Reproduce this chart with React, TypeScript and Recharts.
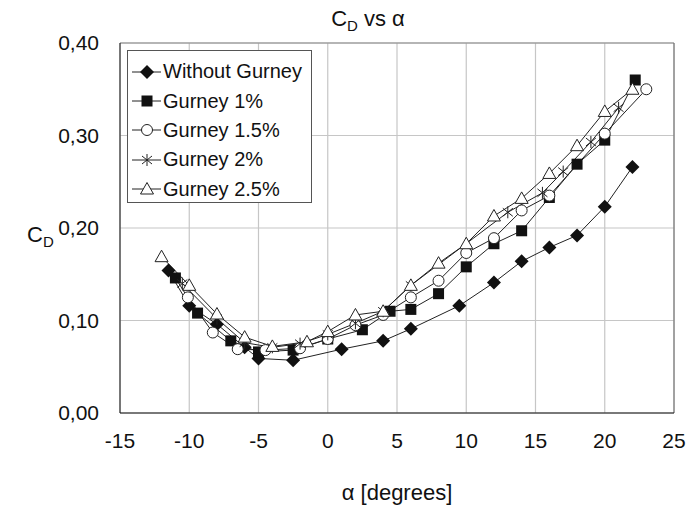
import React from "react";
import {
  LineChart,
  Line,
  XAxis,
  YAxis,
  CartesianGrid,
  ReferenceLine,
} from "recharts";

// angle of attack (deg) and drag coefficient per configuration
const withoutX = [-11.5, -10, -8, -6, -5, -2.5, 1, 4, 6, 9.5, 12, 14, 16, 18, 20, 22];
const withoutY = [0.154, 0.116, 0.096, 0.071, 0.059, 0.057, 0.069, 0.078, 0.091, 0.116, 0.141, 0.164, 0.179, 0.192, 0.223, 0.266];

const g1X = [-11, -9.4, -7, -5, -2.5, 0, 2.5, 4.5, 6, 8, 10, 12, 14, 16, 18, 20, 22.2];
const g1Y = [0.146, 0.108, 0.078, 0.066, 0.068, 0.08, 0.09, 0.11, 0.112, 0.129, 0.158, 0.183, 0.197, 0.233, 0.269, 0.295, 0.36];

const g15X = [-10.1, -8.3, -6.5, -4.5, -2, 0, 2, 4, 6, 8, 10, 12, 14, 16, 20, 23];
const g15Y = [0.125, 0.087, 0.069, 0.068, 0.07, 0.08, 0.095, 0.106, 0.125, 0.143, 0.173, 0.189, 0.219, 0.235, 0.302, 0.35];

const g2X = [-10.5, -8, -6, -4, -2, 0, 2, 4, 6, 13, 15.5, 17, 19, 21];
const g2Y = [0.14, 0.102, 0.076, 0.071, 0.075, 0.085, 0.097, 0.11, 0.138, 0.217, 0.238, 0.261, 0.293, 0.33];

const g25X = [-12, -10, -8, -6, -4, -1.5, 0, 2, 4, 6, 8, 10, 12, 14, 16, 18, 20, 22];
const g25Y = [0.169, 0.138, 0.107, 0.082, 0.072, 0.077, 0.088, 0.106, 0.11, 0.138, 0.162, 0.183, 0.213, 0.232, 0.259, 0.289, 0.326, 0.35];

const xTicks = [-15, -10, -5, 0, 5, 10, 15, 20, 25];
const yTicks = [0, 0.1, 0.2, 0.3, 0.4];

const toRows = (xs: number[], ys: number[]) => xs.map((x, i) => ({ x, y: ys[i] }));

const FONT = "'Liberation Sans', Arial, sans-serif";

type Shape = "diamond" | "square" | "circle" | "star" | "triangle";

const Marker = ({ shape, cx, cy }: { shape: Shape; cx: number; cy: number }) => {
  switch (shape) {
    case "diamond":
      return <polygon points={`${cx},${cy - 7} ${cx + 7},${cy} ${cx},${cy + 7} ${cx - 7},${cy}`} fill="#111" />;
    case "square":
      return <rect x={cx - 5.5} y={cy - 5.5} width={11} height={11} fill="#111" />;
    case "circle":
      return <circle cx={cx} cy={cy} r={5.5} fill="#fff" stroke="#222" strokeWidth={1} />;
    case "star":
      return (
        <g stroke="#222" strokeWidth={1}>
          <line x1={cx} y1={cy - 6} x2={cx} y2={cy + 6} />
          <line x1={cx - 5} y1={cy - 4} x2={cx + 5} y2={cy + 4} />
          <line x1={cx - 5} y1={cy + 4} x2={cx + 5} y2={cy - 4} />
        </g>
      );
    default:
      return (
        <polygon
          points={`${cx},${cy - 6.5} ${cx + 6.5},${cy + 5} ${cx - 6.5},${cy + 5}`}
          fill="#fff"
          stroke="#222"
          strokeWidth={1}
        />
      );
  }
};

const dotFor = (shape: Shape) => (p: any) =>
  <Marker key={`${shape}-${p.index}`} shape={shape} cx={p.cx} cy={p.cy} />;

const series: { name: string; shape: Shape; data: { x: number; y: number }[] }[] = [
  { name: "Without Gurney", shape: "diamond", data: toRows(withoutX, withoutY) },
  { name: "Gurney 1%", shape: "square", data: toRows(g1X, g1Y) },
  { name: "Gurney 1.5%", shape: "circle", data: toRows(g15X, g15Y) },
  { name: "Gurney 2%", shape: "star", data: toRows(g2X, g2Y) },
  { name: "Gurney 2.5%", shape: "triangle", data: toRows(g25X, g25Y) },
];

// legend drawn as an overlay box inside the plot's top-left corner
const LegendBox = () => (
  <div
    style={{
      position: "absolute",
      left: 127,
      top: 50,
      border: "1px solid #555",
      background: "#fff",
      width: 185,
      padding: "6px 0 3px 0",
      fontFamily: FONT,
      fontSize: 20,
      color: "#111",
      zIndex: 3,
      boxSizing: "border-box",
      height: 153,
    }}
  >
    {series.map((s) => (
      <div key={s.name} style={{ display: "flex", alignItems: "center", height: 29.4 }}>
        <svg width={33} height={20} style={{ marginLeft: 2 }}>
          <line x1={2} y1={10} x2={31} y2={10} stroke="#222" strokeWidth={1} />
          <Marker shape={s.shape} cx={17} cy={10} />
        </svg>
        <span>{s.name}</span>
      </div>
    ))}
  </div>
);

const fmt = (v: number) => v.toFixed(2).replace(".", ",");

export default function App() {
  return (
    <div style={{ position: "absolute", left: 0, top: 0, width: 689, height: 505, background: "#fff" }}>
      <div
        style={{
          position: "absolute",
          left: 0,
          width: 736,
          top: 6,
          textAlign: "center",
          fontFamily: FONT,
          fontSize: 22,
          color: "#111",
          zIndex: 2,
        }}
      >
        C<sub style={{ fontSize: 15 }}>D</sub> vs α
      </div>
      <LegendBox />
      <LineChart width={689} height={505} margin={{ top: 43, right: 15, bottom: 0, left: 0 }}>
        <CartesianGrid stroke="#c6c6c6" strokeWidth={1.2} />
        <XAxis
          dataKey="x"
          type="number"
          domain={[-15, 25]}
          ticks={xTicks}
          allowDuplicatedCategory={false}
          height={92}
          stroke="#111"
          tickLine={false}
          tickSize={0}
          tickMargin={20}
          tick={{ fill: "#111", fontSize: 21, fontFamily: FONT }}
          label={{
            content: ({ viewBox }: any) => (
              <text
                x={viewBox.x + viewBox.width / 2}
                y={viewBox.y + 87}
                textAnchor="middle"
                fill="#111"
                fontSize={22}
                fontFamily={FONT}
              >
                α [degrees]
              </text>
            ),
          }}
        />
        <YAxis
          dataKey="y"
          type="number"
          domain={[0, 0.4]}
          ticks={yTicks}
          width={120}
          stroke="#111"
          tickLine={false}
          tickSize={0}
          tickMargin={21}
          tickFormatter={fmt}
          tick={{ fill: "#111", fontSize: 21, fontFamily: FONT }}
          label={{
            content: () => (
              <text x={27} y={242} fill="#111" fontSize={22} fontFamily={FONT}>
                C<tspan fontSize={15} dy={5}>D</tspan>
              </text>
            ),
          }}
        />
        <ReferenceLine y={0.4} stroke="#888" />
        <ReferenceLine x={25} stroke="#666" />
        {series.map((s) => (
          <Line
            key={s.name}
            data={s.data}
            dataKey="y"
            name={s.name}
            stroke="#222"
            strokeWidth={1}
            dot={dotFor(s.shape)}
            activeDot={false}
            isAnimationActive={false}
          />
        ))}
      </LineChart>
    </div>
  );
}
